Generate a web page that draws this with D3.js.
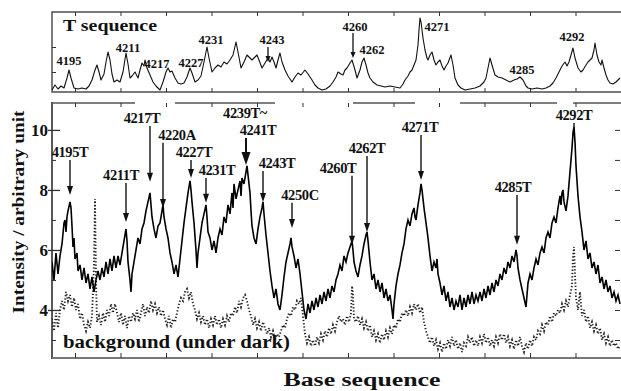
<!DOCTYPE html>
<html>
<head>
<meta charset="utf-8">
<script src="https://cdn.jsdelivr.net/npm/d3@7"></script>
<style>
  body { margin: 0; background: #fff; }
  text { font-family: "Liberation Serif", "Times New Roman", serif; font-weight: bold; fill: #111; }
</style>
</head>
<body>
<div id="chart"></div>
<script>
// Scan position (a.u.) vs intensity

// upper panel: T sequence ladder
const tSequence = [
  [0,0.2],[3,0.7],[6,0.3],[9,0.6],[12,0.4],[15,1.4],[17,2.2],[19,1.4],[22,0.4],[26,0.3],[30,0.4],[34,0.3],
  [37,0.6],[40,1.2],[43,2.2],[45,2.7],[47,2.0],[49,1.2],[52,1.8],[54,3.0],[56,4.0],[58,3.2],[60,1.8],[62,1.0],
  [65,1.2],[68,1.0],[71,2.0],[74,3.9],[76,2.8],[78,1.4],[80,1.6],[83,2.0],[86,1.4],[88,2.2],[90,2.9],[92,2.6],
  [93,3.2],[95,2.4],[98,1.7],[101,1.0],[104,0.6],[108,0.2],[111,1.0],[114,2.0],[116,2.4],[118,2.0],[120,2.1],
  [123,1.4],[126,0.9],[129,0.8],[132,0.9],[135,1.5],[138,2.4],[140,1.9],[143,1.0],[146,1.2],[149,1.6],[152,3.0],
  [155,4.5],[157,3.4],[160,2.0],[163,2.4],[166,2.7],[169,2.5],[172,3.0],[175,2.8],[178,3.2],[181,3.7],[184,5.0],
  [186,4.0],[189,2.4],[192,3.0],[195,3.7],[198,3.4],[200,3.2],[203,3.5],[205,3.7],[207,3.2],[210,2.4],[213,2.9],
  [216,3.4],[218,3.0],[220,3.5],[222,3.0],[224,2.4],[226,3.2],[228,3.9],[230,3.0],[233,2.2],[236,1.6],[240,1.0],
  [243,1.5],[246,1.9],[249,1.7],[253,2.2],[256,1.8],[260,1.2],[263,0.7],[266,0.4],[270,0.2],[274,0.3],[278,0.6],
  [281,1.0],[284,1.5],[286,2.0],[289,1.8],[291,1.7],[293,2.2],[295,2.4],[298,2.9],[300,3.2],[303,2.2],[305,1.4],
  [308,2.2],[310,3.0],[312,3.4],[314,2.7],[316,1.9],[318,1.4],[321,1.0],[325,0.7],[329,0.6],[333,0.5],[338,0.6],
  [343,0.5],[348,0.4],[351,0.8],[353,1.2],[356,1.6],[358,2.0],[360,2.2],[362,2.7],[364,3.2],[366,4.7],[367,6.2],
  [368,7.4],[369,7.0],[371,5.4],[373,4.2],[375,3.4],[376,3.2],[378,3.7],[380,4.0],[382,3.2],[384,2.7],[386,3.0],
  [388,3.2],[390,2.6],[392,2.2],[394,2.6],[396,2.9],[399,3.7],[401,2.7],[403,1.4],[406,0.7],[409,0.4],[413,0.2],
  [418,0.3],[423,0.4],[428,0.6],[432,1.0],[434,1.4],[436,2.4],[438,3.4],[440,2.7],[443,1.7],[446,1.5],[450,1.4],
  [454,1.2],[458,1.0],[462,1.2],[465,1.3],[468,1.5],[471,1.2],[474,0.6],[476,0.4],[480,0.3],[485,0.4],[490,0.3],
  [494,0.4],[498,0.6],[501,0.9],[504,1.4],[507,2.0],[510,2.6],[513,3.0],[515,2.6],[517,3.0],[519,3.7],[521,4.4],
  [523,3.4],[526,2.4],[529,2.0],[531,2.2],[534,2.7],[536,3.0],[538,3.2],[540,3.4],[542,4.2],[543,4.9],[545,3.7],
  [547,3.0],[549,2.7],[550,3.2],[552,2.4],[554,1.7],[556,1.2],[558,0.9],[561,0.8],[564,1.0],[566,1.2],[568,1.4]
];

// lower panel: sample signal
const signal = [
  [0,5.6],[2,5.0],[4,5.9],[6,5.2],[8,5.8],[10,6.2],[12,6.9],[13,7.0],[14,6.6],[15,7.1],[16,7.3],[18,7.6],[19,7.4],
  [20,6.8],[21,6.1],[22,6.4],[23,5.7],[25,5.9],[26,5.3],[28,5.5],[30,5.0],[32,5.4],[34,4.9],[36,5.2],[38,4.7],
  [40,5.1],[42,4.6],[44,5.0],[46,5.3],[48,5.0],[50,5.4],[52,5.1],[54,5.6],[56,5.2],[58,5.7],[60,5.3],[62,5.8],
  [64,5.4],[66,5.8],[68,5.5],[70,5.9],[72,6.3],[74,6.7],[75,6.3],[76,5.6],[78,5.0],[79,4.6],[80,5.2],[82,5.6],
  [84,6.0],[86,6.4],[88,6.2],[90,6.7],[92,6.9],[94,7.3],[96,7.6],[98,7.9],[99,7.5],[100,7.1],[102,6.7],[104,6.4],
  [106,6.8],[108,6.9],[110,7.3],[111,7.5],[112,7.1],[114,6.7],[116,6.4],[118,5.9],[120,5.6],[122,5.2],[124,5.5],
  [126,5.1],[128,5.7],[130,6.3],[132,6.9],[134,7.4],[136,7.9],[138,8.3],[139,8.0],[140,7.6],[142,6.9],[144,6.0],
  [145,5.4],[146,5.9],[148,6.4],[150,6.9],[152,7.2],[154,7.5],[155,7.1],[156,6.6],[158,6.4],[160,6.0],[162,6.3],
  [164,5.9],[166,6.4],[168,6.7],[170,6.5],[172,7.1],[174,6.9],[176,7.5],[178,7.2],[180,7.9],[181,7.4],[182,8.2],
  [184,7.7],[186,8.0],[188,8.3],[189,7.8],[190,8.4],[192,8.2],[194,8.6],[195,8.8],[196,8.5],[198,7.9],[199,7.3],
  [200,6.8],[202,6.4],[204,6.2],[206,6.7],[208,7.1],[210,7.4],[211,7.6],[212,7.2],[214,6.5],[216,5.9],[218,5.3],
  [220,4.8],[222,4.4],[224,4.7],[226,4.2],[228,4.0],[230,4.5],[232,5.1],[234,5.6],[236,5.9],[238,6.2],[239,6.4],
  [240,6.1],[242,5.8],[244,5.4],[246,5.7],[248,5.2],[250,4.6],[252,4.0],[254,3.7],[256,4.2],[258,3.9],[260,4.3],
  [262,4.0],[264,4.4],[266,4.1],[268,4.5],[270,4.2],[272,4.6],[274,4.3],[276,4.7],[278,4.4],[280,4.8],[282,4.6],
  [284,5.0],[286,5.2],[288,5.5],[290,5.3],[292,5.8],[294,5.6],[296,5.9],[298,6.1],[300,6.3],[301,6.0],[302,5.6],
  [304,5.3],[306,5.1],[308,5.5],[310,5.8],[312,6.2],[314,6.5],[315,6.6],[316,6.3],[318,5.6],[320,5.0],[322,5.2],
  [324,4.7],[326,5.0],[328,4.6],[330,4.9],[332,4.4],[334,4.7],[336,4.3],[338,4.5],[340,4.0],[341,3.7],[342,4.2],
  [344,4.8],[346,5.2],[348,5.5],[350,5.9],[352,6.2],[354,6.7],[356,7.0],[358,6.8],[360,7.2],[362,7.4],[363,7.1],
  [364,7.0],[366,7.5],[368,7.9],[369,8.2],[370,8.0],[372,7.4],[374,6.9],[376,6.4],[378,5.8],[380,5.3],[382,5.6],
  [384,5.4],[385,5.7],[386,5.2],[388,4.9],[390,4.5],[392,4.8],[394,4.3],[396,4.6],[398,4.1],[400,4.4],[402,4.0],
  [404,4.3],[406,4.1],[408,4.5],[410,4.0],[412,4.4],[414,4.1],[416,4.5],[418,4.2],[420,4.6],[422,4.2],[424,4.5],
  [426,4.3],[428,4.6],[430,4.3],[432,4.7],[434,4.4],[436,4.8],[438,4.5],[440,4.9],[442,4.6],[444,5.0],[446,4.8],
  [448,5.2],[450,5.0],[452,5.4],[454,5.2],[456,5.6],[458,5.4],[460,5.8],[462,5.6],[464,6.0],[465,5.8],[466,5.4],
  [468,5.0],[470,4.7],[472,4.4],[474,4.1],[475,4.5],[476,4.9],[478,5.2],[480,5.0],[482,5.4],[484,5.7],[486,5.5],
  [488,5.9],[490,6.1],[492,5.9],[494,6.4],[496,6.6],[498,6.4],[500,6.9],[502,7.1],[504,6.9],[506,7.4],[508,7.8],
  [509,7.5],[510,7.9],[511,8.0],[512,7.6],[514,7.3],[516,7.8],[518,8.6],[520,9.4],[521,9.9],[522,10.1],[523,9.6],
  [524,8.8],[526,7.8],[528,7.1],[530,6.6],[532,6.0],[534,6.3],[536,5.7],[538,5.9],[540,5.4],[542,5.6],[544,5.2],
  [546,5.5],[548,4.9],[550,5.1],[552,4.7],[554,5.0],[556,4.6],[558,4.8],[560,4.4],[562,4.6],[564,4.3],[566,4.5],
  [568,4.2]
];

// lower panel: background (under dark)
const background = [
  [0,3.7],[2,3.3],[4,3.9],[6,3.4],[8,4.0],[10,4.3],[12,4.0],[14,4.6],[16,4.3],[18,4.5],[20,4.1],[22,4.4],[24,4.0],
  [26,4.2],[28,3.7],[30,3.9],[32,3.5],[34,3.3],[36,3.6],[38,3.4],[40,3.8],[42,5.5],[43,7.7],[44,5.0],[45,3.6],
  [47,3.8],[49,3.5],[51,3.9],[53,3.6],[55,4.0],[57,3.8],[59,4.2],[61,3.9],[63,4.2],[65,3.9],[67,3.6],[69,3.9],
  [71,3.5],[73,3.8],[75,3.4],[77,3.8],[79,3.6],[81,3.9],[83,3.7],[85,4.0],[87,3.6],[89,3.9],[91,4.2],[93,3.8],
  [95,4.1],[97,3.9],[99,4.3],[101,4.0],[103,4.2],[105,3.9],[107,4.1],[109,3.8],[111,4.0],[113,3.7],[115,3.5],
  [117,3.8],[119,3.4],[121,3.7],[123,3.6],[125,3.9],[127,4.2],[129,4.4],[131,4.3],[133,4.6],[135,4.7],[137,4.4],
  [139,4.6],[141,4.2],[143,4.0],[145,3.7],[147,3.9],[149,3.6],[151,3.8],[153,3.5],[155,3.7],[157,3.4],[159,3.7],
  [161,3.5],[163,3.8],[165,3.5],[167,3.7],[169,3.4],[171,3.7],[173,3.5],[175,3.8],[177,3.6],[179,3.9],[181,3.8],
  [183,4.1],[185,3.9],[187,4.3],[189,4.1],[191,4.4],[193,4.5],[195,4.3],[197,4.0],[199,3.8],[201,3.5],[203,3.7],
  [205,3.4],[207,3.6],[209,3.3],[211,3.6],[213,3.4],[215,3.2],[217,3.4],[219,3.1],[221,3.3],[223,3.0],[225,3.2],
  [227,3.1],[229,3.3],[231,3.5],[233,3.4],[235,3.7],[237,3.9],[239,3.8],[241,4.1],[243,4.0],[245,4.3],[247,4.2],
  [249,4.4],[251,3.8],[253,3.2],[255,2.9],[257,3.1],[259,2.8],[261,3.0],[263,2.8],[265,3.1],[267,2.9],[269,3.2],
  [271,3.0],[273,3.3],[275,3.1],[277,3.4],[279,3.2],[281,3.5],[283,3.3],[285,3.6],[287,3.8],[289,3.6],[291,3.7],
  [293,3.5],[295,3.8],[297,3.6],[299,3.9],[300,4.8],[301,4.5],[302,3.7],[304,3.6],[306,3.8],[308,3.5],[310,3.7],
  [312,3.4],[314,3.6],[316,3.3],[318,3.5],[320,3.1],[322,3.3],[324,3.0],[326,3.2],[328,2.9],[330,3.2],[332,3.0],
  [334,3.3],[336,3.1],[338,3.4],[340,3.2],[342,3.5],[344,3.4],[346,3.7],[348,3.6],[350,3.9],[352,3.8],[354,4.0],
  [356,3.8],[358,4.1],[360,3.9],[362,4.2],[364,4.0],[366,4.2],[368,3.9],[370,4.1],[372,3.6],[374,3.3],[376,3.1],
  [378,2.9],[380,3.1],[382,2.8],[384,3.0],[386,2.7],[388,2.9],[390,2.6],[392,2.9],[394,2.7],[396,3.0],[398,2.8],
  [400,3.1],[402,2.8],[404,3.0],[406,2.7],[408,2.9],[410,2.6],[412,2.9],[414,2.8],[416,3.1],[418,2.9],[420,3.1],
  [422,2.8],[424,3.0],[426,2.8],[428,3.1],[430,2.9],[432,3.2],[434,2.9],[436,3.1],[438,2.8],[440,3.0],[442,2.8],
  [444,3.1],[446,2.9],[448,3.2],[450,3.0],[452,3.2],[454,2.9],[456,3.1],[458,2.8],[460,3.0],[462,2.7],[464,3.0],
  [466,2.8],[468,3.1],[470,2.8],[472,2.6],[474,2.9],[476,2.7],[478,3.0],[480,2.8],[482,3.1],[484,3.0],[486,3.3],
  [488,3.2],[490,3.5],[492,3.3],[494,3.6],[496,3.5],[498,3.8],[500,3.6],[502,3.9],[504,3.8],[506,4.0],[508,3.9],
  [510,4.2],[512,4.0],[514,4.3],[516,4.1],[518,4.5],[520,4.8],[521,5.8],[522,6.1],[523,5.2],[524,4.4],[526,4.0],
  [528,4.6],[529,4.2],[530,3.8],[532,4.0],[534,3.6],[536,3.8],[538,3.4],[540,3.6],[542,3.3],[544,3.5],[546,3.2],
  [548,3.4],[550,3.0],[552,3.2],[554,2.9],[556,3.1],[558,2.8],[560,3.0],[562,2.8],[564,2.9],[566,2.7],[568,2.8]
];

// upper panel peak labels: [text, position, level]
const topLabels = [
  ['4195', 17, 2.7], ['4211', 76, 4.0], ['4217', 105, 2.4], ['4227', 139, 2.5], ['4231', 159, 4.8],
  ['4243', 220, 4.8], ['4260', 303, 6.1], ['4262', 320, 3.8], ['4271', 385, 6.1], ['4285', 470, 1.8],
  ['4292', 520, 5.1]
];
// upper panel arrows: [position, from level, to level]
const topArrows = [[216, 4.5, 3.0], [301, 5.9, 3.4]];

// lower panel base annotations
const baseNames = ['4195T','4211T','4217T','4220A','4227T','4231T','4241T','4243T','4250C','4260T','4262T','4271T','4285T','4292T'];
const basePos   = [18, 74, 98, 111, 139, 154, 194, 211, 240, 300, 315, 369, 465, 522];
const baseLabelLevel = [9.1, 8.33, 10.23, 9.67, 9.1, 8.5, 9.83, 8.73, 7.67, 8.57, 9.23, 9.93, 7.93, 10.33];
const baseTipLevel   = [7.83, 6.93, 8.27, 7.4, 8.4, 7.57, 8.83, 7.6, 6.73, 6.17, 6.6, 8.33, 6.17, 10.1];
const baseLabelDx    = [0, -5, -8, 14, 3, 11, 12, 14, 8, -14, 0, -1, -4, 0];

const yTicksMajor = [4, 6, 8, 10];
const yTicksMinor = [3, 5, 7, 9];

const W = 621, H = 391;
const svg = d3.select('#chart').append('svg').attr('width', W).attr('height', H);

const x = d3.scaleLinear().domain([0, 569]).range([52, 621]);
const yTop = d3.scaleLinear().domain([0, 8]).range([92, 12]);
const y = d3.scaleLinear().domain([2.4, 10.93]).range([358, 102]);
const xTicks = d3.range(23, 569, 45.5);

const defs = svg.append('defs');
defs.append('clipPath').attr('id', 'clipTop').append('rect')
  .attr('x', 52).attr('y', 12).attr('width', W - 52).attr('height', 80);
defs.append('clipPath').attr('id', 'clipBot').append('rect')
  .attr('x', 52).attr('y', 102).attr('width', W - 52).attr('height', 256);

// ---------- upper panel ----------
const topPanel = svg.append('g');
topPanel.append('rect').attr('x', 52).attr('y', 12).attr('width', W - 52 + 2).attr('height', 80)
  .attr('fill', 'none').attr('stroke', '#333').attr('stroke-width', 1.3);

const tickStyle = g => g.call(s => s.select('.domain').remove())
  .call(s => s.selectAll('line').attr('stroke', '#333').attr('stroke-width', 1));
topPanel.append('g').attr('transform', 'translate(0,12)')
  .call(d3.axisTop(x).tickValues(xTicks).tickSize(-4).tickFormat(''))
  .call(tickStyle);
topPanel.append('g').attr('transform', 'translate(0,92)')
  .call(d3.axisBottom(x).tickValues(xTicks).tickSize(-4).tickFormat(''))
  .call(tickStyle);
topPanel.append('g').attr('transform', 'translate(52,0)')
  .call(d3.axisLeft(yTop).tickValues([2, 4.5]).tickSize(-4).tickFormat(''))
  .call(tickStyle);

topPanel.append('path').datum(tSequence)
  .attr('clip-path', 'url(#clipTop)')
  .attr('fill', 'none').attr('stroke', '#111').attr('stroke-width', 1.1)
  .attr('stroke-linejoin', 'round')
  .attr('d', d3.line().x(d => x(d[0])).y(d => yTop(d[1])));

topPanel.append('text').attr('x', 63).attr('y', 31)
  .attr('font-size', 17).attr('textLength', 94).attr('lengthAdjust', 'spacingAndGlyphs')
  .text('T sequence');

topPanel.selectAll('.tlab').data(topLabels).enter().append('text')
  .attr('class', 'tlab')
  .attr('x', d => x(d[1])).attr('y', d => yTop(d[2]))
  .attr('text-anchor', 'middle').attr('font-size', 12.5)
  .text(d => d[0]);

topArrows.forEach(a => {
  const ax = x(a[0]), y0 = yTop(a[1]), y1 = yTop(a[2]);
  topPanel.append('line').attr('x1', ax).attr('x2', ax).attr('y1', y0).attr('y2', y1 - 5)
    .attr('stroke', '#111').attr('stroke-width', 1.3);
  topPanel.append('path').attr('d', `M${ax},${y1}L${ax - 2.5},${y1 - 6}L${ax + 2.5},${y1 - 6}Z`).attr('fill', '#111');
});

// ---------- lower panel ----------
const bot = svg.append('g');

// axes frame
bot.append('line').attr('x1', 52).attr('x2', 52).attr('y1', 102).attr('y2', 359)
  .attr('stroke', '#222').attr('stroke-width', 1.5);
bot.append('line').attr('x1', 52).attr('x2', W).attr('y1', 358).attr('y2', 358)
  .attr('stroke', '#777').attr('stroke-width', 2);
bot.append('line').attr('x1', 52).attr('x2', W).attr('y1', 103).attr('y2', 103)
  .attr('stroke', '#555').attr('stroke-width', 1.5)
  .attr('stroke-dasharray', '83 40 100 78 62 45 97 16 60');

bot.append('g').attr('transform', 'translate(0,358)')
  .call(d3.axisBottom(x).tickValues(xTicks).tickSize(-5).tickFormat(''))
  .call(tickStyle);
bot.append('g').attr('transform', 'translate(0,103)')
  .call(d3.axisTop(x).tickValues(xTicks).tickSize(-4).tickFormat(''))
  .call(tickStyle);

const yAxis = bot.append('g').attr('transform', 'translate(52,0)')
  .call(d3.axisLeft(y).tickValues(yTicksMajor).tickSize(4).tickPadding(0))
  .call(tickStyle);
yAxis.selectAll('line').attr('x1', 8).attr('stroke-width', 1.3);
yAxis.selectAll('text').attr('font-size', 17).attr('font-family', '"Liberation Serif", serif')
  .attr('font-weight', 'bold').attr('fill', '#111');
bot.append('g').attr('transform', 'translate(52,0)')
  .call(d3.axisLeft(y).tickValues(yTicksMinor).tickSize(-4).tickFormat(''))
  .call(tickStyle);
bot.append('g').attr('transform', `translate(${W - 1},0)`)
  .call(d3.axisRight(y).tickValues(d3.range(3, 11)).tickSize(-5).tickFormat(''))
  .call(tickStyle);

const line = d3.line().x(d => x(d[0])).y(d => y(d[1]));
bot.append('path').datum(background)
  .attr('clip-path', 'url(#clipBot)')
  .attr('fill', 'none').attr('stroke', '#222').attr('stroke-width', 1.9)
  .attr('stroke-dasharray', '1.3 2')
  .attr('d', line);
bot.append('path').datum(signal)
  .attr('clip-path', 'url(#clipBot)')
  .attr('fill', 'none').attr('stroke', '#000').attr('stroke-width', 1.6)
  .attr('d', line);

// annotations
const ann = bot.append('g');
baseNames.forEach((name, i) => {
  const ax = x(basePos[i]);
  const ly = y(baseLabelLevel[i]);
  const ty = y(baseTipLevel[i]);
  const big = name === '4241T';
  const headL = big ? 13 : 9, headW = big ? 4.5 : 3;
  ann.append('text').attr('x', ax + baseLabelDx[i]).attr('y', ly)
    .attr('text-anchor', 'middle').attr('font-size', 14.5).attr('letter-spacing', -0.4)
    .text(name);
  const noHead = name === '4292T';
  ann.append('line').attr('x1', ax).attr('x2', ax)
    .attr('y1', ly + 3).attr('y2', noHead ? ty : ty - headL + 1)
    .attr('stroke', '#111').attr('stroke-width', big ? 2 : 1.4);
  if (!noHead) {
    ann.append('path')
      .attr('d', `M${ax},${ty}L${ax - headW},${ty - headL}L${ax + headW},${ty - headL}Z`)
      .attr('fill', '#111');
  }
});
ann.append('text').attr('x', x(193)).attr('y', y(10.4))
  .attr('text-anchor', 'middle').attr('font-size', 14.5).attr('letter-spacing', -0.4)
  .text('4239T~');

bot.append('text').attr('x', 63).attr('y', 348)
  .attr('font-size', 18).attr('textLength', 227).attr('lengthAdjust', 'spacingAndGlyphs')
  .text('background (under dark)');

// axis titles
svg.append('text').attr('transform', 'translate(24,212) rotate(-90)')
  .attr('text-anchor', 'middle').attr('font-size', 16)
  .attr('textLength', 203).attr('lengthAdjust', 'spacingAndGlyphs')
  .text('Intensity / arbitrary unit');
svg.append('text').attr('x', 362).attr('y', 386)
  .attr('text-anchor', 'middle').attr('font-size', 18)
  .attr('textLength', 157).attr('lengthAdjust', 'spacingAndGlyphs')
  .text('Base sequence');
</script>
</body>
</html>
